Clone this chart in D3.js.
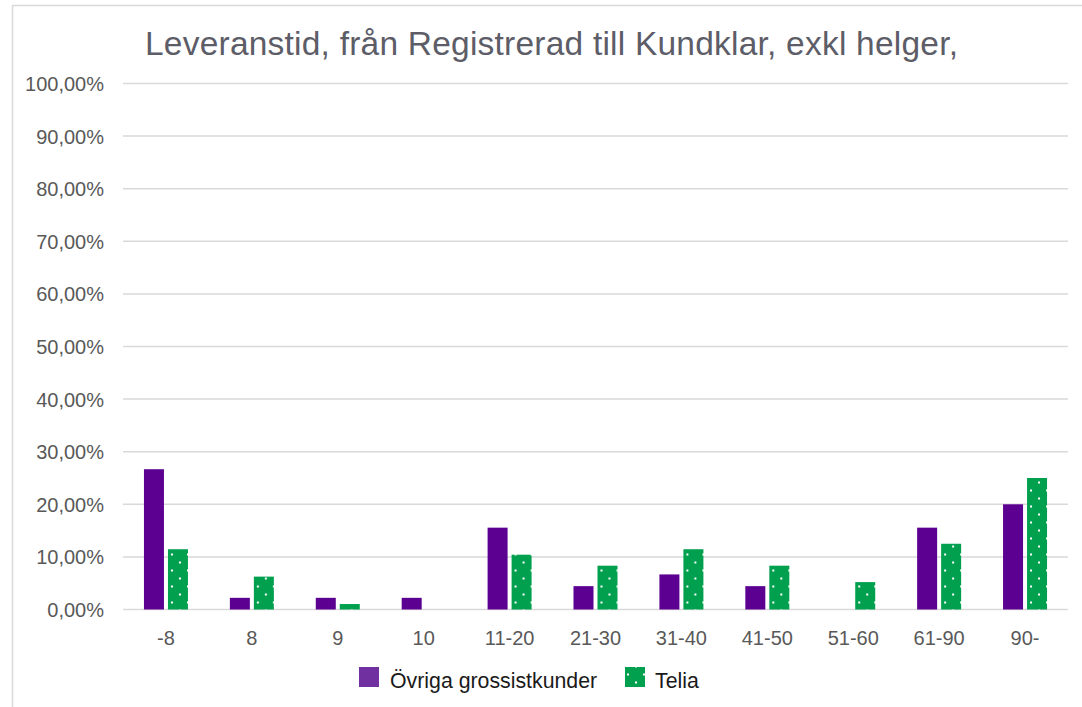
<!DOCTYPE html>
<html>
<head>
<meta charset="utf-8">
<script src="https://cdn.jsdelivr.net/npm/d3@7"></script>
<style>
html,body{margin:0;padding:0;background:#fff;}
svg{display:block;font-family:"Liberation Sans",Arial,sans-serif;}
</style>
</head>
<body>
<svg id="chart" width="1082" height="707"></svg>
<script>
const title = "Leveranstid, från Registrerad till Kundklar, exkl helger,";
const categories = ["-8","8","9","10","11-20","21-30","31-40","41-50","51-60","61-90","90-"];
const seriesNames = ["Övriga grossistkunder","Telia"];
const ovriga = [26.67, 2.22, 2.22, 2.22, 15.56, 4.44, 6.67, 4.44, 0, 15.56, 20.00];
const telia = [11.46, 6.25, 1.04, 0, 10.42, 8.33, 11.46, 8.33, 5.21, 12.50, 25.00];
const yTicks = [0,10,20,30,40,50,60,70,80,90,100];

const svg = d3.select("#chart");
const W = 1082, H = 707;
const m = {left:123, right:1068, top:83.5, bottom:609.5};

// border
svg.append("rect").attr("x",12.5).attr("y",5.5).attr("width",1100).attr("height",720)
  .attr("fill","#fff").attr("stroke","#d9d9d9").attr("stroke-width",1.5);

// pattern
const defs = svg.append("defs");
const pat = defs.append("pattern").attr("id","dots").attr("patternUnits","userSpaceOnUse")
  .attr("width",16).attr("height",16).attr("x",3).attr("y",1.5);
pat.append("rect").attr("width",16).attr("height",16).attr("fill","#00A04F");
pat.append("rect").attr("x",0).attr("y",0).attr("width",2).attr("height",2).attr("fill","#fff");
pat.append("rect").attr("x",8).attr("y",8).attr("width",2).attr("height",2).attr("fill","#fff");

const x0 = d3.scaleBand().domain(categories).range([m.left,m.right]).paddingInner(0.488).paddingOuter(0.244);
const x1 = d3.scaleBand().domain(seriesNames).range([0,44]).paddingInner(4/24).paddingOuter(0);
const y = d3.scaleLinear().domain([0,100]).range([m.bottom,m.top]);

// gridlines
svg.append("g").selectAll("line").data(yTicks).join("line")
  .attr("x1",m.left).attr("x2",m.right)
  .attr("y1",d=>y(d)).attr("y2",d=>y(d))
  .attr("stroke","#d9d9d9").attr("stroke-width",1.5);

// y axis labels
const fmt = d => d.toFixed(2).replace(".",",") + "%";
const yAxis = d3.axisLeft(y).tickValues(yTicks).tickFormat(fmt).tickSize(0).tickPadding(0);
const ya = svg.append("g").attr("transform",`translate(104,0)`).call(yAxis);
ya.select(".domain").remove();
ya.selectAll("text").attr("font-size",20).attr("fill","#595959").attr("font-family","Liberation Sans, Arial, sans-serif").attr("dy","0.35em");

// bars
const data = categories.map((c,i)=>({cat:c, vals:[{s:seriesNames[0],v:ovriga[i]},{s:seriesNames[1],v:telia[i]}]}));
const groupW = 44;
const g = svg.append("g").selectAll("g").data(data).join("g")
  .attr("transform",d=>`translate(${x0(d.cat)+x0.bandwidth()/2-groupW/2},0)`);
g.selectAll("rect").data(d=>d.vals).join("rect")
  .attr("x",d=>x1(d.s)).attr("width",x1.bandwidth())
  .attr("y",d=>y(d.v)).attr("height",d=>y(0)-y(d.v))
  .attr("fill",d=>d.s===seriesNames[0] ? "#5C0091" : "url(#dots)");

// x axis labels
const xAxis = d3.axisBottom(x0).tickSize(0).tickPadding(0);
const xa = svg.append("g").attr("transform",`translate(0,${m.bottom})`).call(xAxis);
xa.select(".domain").remove();
xa.selectAll("text").attr("font-size",20).attr("fill","#595959").attr("font-family","Liberation Sans, Arial, sans-serif").attr("dy",null).attr("y",35.5);

// title
svg.append("text").attr("x",145).attr("y",55).attr("font-size",33.5).attr("fill","#5d5d68")
  .attr("textLength",813).attr("lengthAdjust","spacing")
  .text(title);

// legend
const leg = [{name:seriesNames[0],fill:"#7030A0",x:359,tx:390},{name:seriesNames[1],fill:"url(#dots)",x:625,tx:655}];
const lg = svg.append("g").selectAll("g").data(leg).join("g");
lg.append("rect").attr("x",d=>d.x).attr("y",667).attr("width",20).attr("height",20).attr("fill",d=>d.fill);
lg.append("text").attr("x",d=>d.tx).attr("y",687.5).attr("font-size",21.3).attr("fill","#1a1a1a").text(d=>d.name);
</script>
</body>
</html>
